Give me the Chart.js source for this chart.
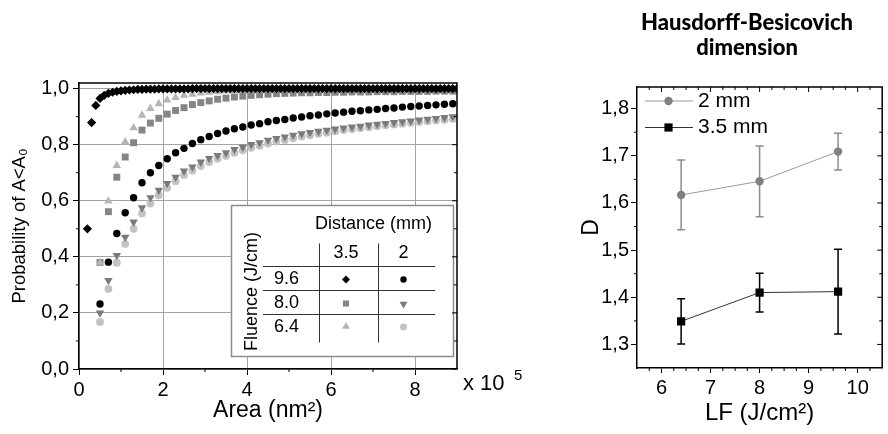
<!DOCTYPE html>
<html><head><meta charset="utf-8">
<script src="https://cdn.jsdelivr.net/npm/chart.js@4.4.0/dist/chart.umd.min.js"></script>
<style>
html,body{margin:0;padding:0;background:#fff;width:888px;height:434px;overflow:hidden;}
#left{position:absolute;left:0;top:0;}
#right{position:absolute;left:560px;top:0;}
.ttl{position:absolute;left:627px;width:240px;text-align:center;font-family:Lato,'Open Sans',sans-serif;font-weight:900;font-size:22px;line-height:25px;color:#000;white-space:nowrap;}
</style></head>
<body>
<canvas id="left" width="540" height="434"></canvas>
<canvas id="right" width="328" height="434"></canvas>
<div class="ttl" style="top:9px">Hausdorff-Besicovich</div>
<div class="ttl" style="top:34px">dimension</div>
<script>
// ---------------- LEFT CHART DATA ----------------
const areaX1 = [0.2,0.3,0.4,0.5,0.6,0.7,0.8,0.9,1.0,
 1.1,1.2,1.3,1.4,1.5,1.6,1.7,1.8,1.9,2.0,
 2.1,2.2,2.3,2.4,2.5,2.6,2.7,2.8,2.9,3.0,
 3.1,3.2,3.3,3.4,3.5,3.6,3.7,3.8,3.9,4.0,
 4.1,4.2,4.3,4.4,4.5,4.6,4.7,4.8,4.9,5.0,
 5.1,5.2,5.3,5.4,5.5,5.6,5.7,5.8,5.9,6.0,
 6.1,6.2,6.3,6.4,6.5,6.6,6.7,6.8,6.9,7.0,
 7.1,7.2,7.3,7.4,7.5,7.6,7.7,7.8,7.9,8.0,
 8.1,8.2,8.3,8.4,8.5,8.6,8.7,8.8,8.9,9.0];
const prob96_35 = [0.500,0.879,0.940,0.965,0.976,0.983,0.987,0.990,0.992,
 0.994,0.995,0.996,0.997,0.997,0.998,0.998,0.998,0.999,0.999,
 0.999,0.999,0.999,0.999,0.999,0.999,1.000,1.000,1.000,1.000,
 1.000,1.000,1.000,1.000,1.000,1.000,1.000,1.000,1.000,1.000,
 1.000,1.000,1.000,1.000,1.000,1.000,1.000,1.000,1.000,1.000,
 1.000,1.000,1.000,1.000,1.000,1.000,1.000,1.000,1.000,1.000,
 1.000,1.000,1.000,1.000,1.000,1.000,1.000,1.000,1.000,1.000,
 1.000,1.000,1.000,1.000,1.000,1.000,1.000,1.000,1.000,1.000,
 1.000,1.000,1.000,1.000,1.000,1.000,1.000,1.000,1.000,1.000];
const areaX2 = [0.5,0.7,0.9,1.1,1.3,1.5,1.7,1.9,2.1,2.3,2.5,2.7,2.9,3.1,3.3,3.5,3.7,3.9,4.1,4.3,4.5,
 4.7,4.9,5.1,5.3,5.5,5.7,5.9,6.1,6.3,6.5,6.7,6.9,7.1,7.3,7.5,7.7,7.9,8.1,8.3,8.5,8.7,8.9];
const prob96_2 = [0.232,0.381,0.483,0.557,0.611,0.664,0.700,0.726,0.750,0.771,0.787,0.804,0.818,0.829,0.840,0.849,0.857,0.863,0.870,0.875,0.882,
 0.886,0.890,0.895,0.899,0.903,0.906,0.910,0.913,0.916,0.919,0.921,0.924,0.926,0.929,0.931,0.934,0.936,0.938,0.940,0.942,0.944,0.946];
const prob80_35 = [0.380,0.561,0.684,0.756,0.807,0.852,0.877,0.894,0.909,0.922,0.932,0.943,0.950,0.956,0.962,0.966,0.970,0.973,0.976,0.978,0.980,
 0.982,0.983,0.984,0.985,0.985,0.986,0.986,0.987,0.987,0.988,0.988,0.988,0.989,0.989,0.989,0.990,0.990,0.990,0.990,0.991,0.991,0.991];
const prob80_2 = [0.200,0.316,0.405,0.470,0.524,0.575,0.611,0.638,0.662,0.684,0.706,0.721,0.738,0.751,0.762,0.771,0.783,0.791,0.801,0.807,0.816,
 0.822,0.828,0.834,0.839,0.844,0.848,0.852,0.856,0.860,0.863,0.866,0.870,0.873,0.876,0.879,0.882,0.885,0.888,0.891,0.894,0.897,0.900];
const prob64_35 = [0.379,0.599,0.726,0.810,0.860,0.905,0.929,0.946,0.959,0.968,0.976,0.980,0.984,0.987,0.989,0.991,0.992,0.993,0.994,0.995,0.995,
 0.996,0.996,0.996,0.997,0.997,0.997,0.997,0.998,0.998,0.998,0.998,0.998,0.998,0.999,0.999,0.999,0.999,0.999,0.999,0.999,0.999,0.999];
const prob64_2 = [0.168,0.286,0.379,0.446,0.500,0.555,0.590,0.620,0.646,0.670,0.692,0.708,0.724,0.738,0.750,0.760,0.771,0.780,0.789,0.796,0.804,
 0.811,0.817,0.823,0.829,0.834,0.839,0.843,0.848,0.852,0.856,0.859,0.862,0.866,0.869,0.872,0.875,0.878,0.881,0.884,0.887,0.889,0.892];
const xTicksLeft = [0,2,4,6,8];
const xMinorLeft = [1,3,5,7];
const yTicksLeft = [0,0.2,0.4,0.6,0.8,1.0];
const yLabelsLeft = ['0,0','0,2','0,4','0,6','0,8','1,0'];
const yMinorLeft = [0.1,0.3,0.5,0.7,0.9];
const distances = ['3.5','2'];
const fluences = ['9.6','8.0','6.4'];

// ---------------- RIGHT CHART DATA ----------------
const lf = [6.4, 8.0, 9.6];
const d2mm = [1.617, 1.646, 1.709];
const err2mm = [0.074, 0.075, 0.039];
const d35mm = [1.349, 1.410, 1.412];
const err35mm = [0.048, 0.041, 0.090];
const xTicksRight = [6,7,8,9,10];
const xMinorRight = [5.75,6.25,6.5,6.75,7.25,7.5,7.75,8.25,8.5,8.75,9.25,9.5,9.75,10.25];
const yTicksRight = [1.3,1.4,1.5,1.6,1.7,1.8];
const yLabelsRight = ['1,3','1,4','1,5','1,6','1,7','1,8'];
const yMinorRight = [1.35,1.45,1.55,1.65,1.75];

const FONT = "'Liberation Sans', Arial, sans-serif";
Chart.defaults.font.family = FONT;
Chart.defaults.color = '#000';

const C_SQ = '#858585', C_TD = '#7a7a7a', C_TU = '#b5b5b5', C_LC = '#c2c2c2';

function pts(xs, ys){ return xs.map((x,i)=>({x:x, y:ys[i]})); }

function mark(ctx, style, x, y, r, color, rot){
  ctx.save(); ctx.fillStyle = color; ctx.translate(x,y);
  if(rot) ctx.rotate(rot*Math.PI/180);
  ctx.beginPath();
  if(style==='circle') ctx.arc(0,0,r,0,2*Math.PI);
  else if(style==='rect'){ const s=r*Math.SQRT1_2; ctx.rect(-s,-s,2*s,2*s); }
  else if(style==='rectRot'){ ctx.moveTo(-r,0); ctx.lineTo(0,-r); ctx.lineTo(r,0); ctx.lineTo(0,r); ctx.closePath(); }
  else if(style==='triangle'){ ctx.moveTo(0,-r); ctx.lineTo(r*0.866,r*0.5); ctx.lineTo(-r*0.866,r*0.5); ctx.closePath(); }
  ctx.fill(); ctx.restore();
}

function frameTicks(cfg){
  return { id:'frameTicks', afterDraw(chart){
    const {ctx, chartArea:a, scales:{x,y}} = chart;
    ctx.save();
    ctx.strokeStyle = '#000'; ctx.lineWidth = 1.5;
    ctx.beginPath(); ctx.moveTo(a.left,a.top); ctx.lineTo(a.right,a.top); ctx.lineTo(a.right,a.bottom); ctx.stroke();
    ctx.lineWidth = 1;
    ctx.beginPath();
    cfg.yMinor.forEach(v=>{ const p=y.getPixelForValue(v); ctx.moveTo(a.left,p); ctx.lineTo(a.left-3,p); });
    cfg.xMinor.forEach(v=>{ const p=x.getPixelForValue(v); ctx.moveTo(p,a.bottom); ctx.lineTo(p,a.bottom+3); });
    cfg.yMajor.forEach(v=>{ const p=y.getPixelForValue(v); ctx.moveTo(a.right,p); ctx.lineTo(a.right-5,p); });
    cfg.yMinor.forEach(v=>{ const p=y.getPixelForValue(v); ctx.moveTo(a.right,p); ctx.lineTo(a.right-3,p); });
    if(cfg.top){
      cfg.xMajor.forEach(v=>{ const p=x.getPixelForValue(v); ctx.moveTo(p,a.top); ctx.lineTo(p,a.top+5); });
      cfg.xMinor.forEach(v=>{ const p=x.getPixelForValue(v); ctx.moveTo(p,a.top); ctx.lineTo(p,a.top+3); });
    }
    ctx.stroke();
    ctx.restore();
  }};
}

const leftExtras = { id:'leftExtras', afterDatasetsDraw(chart){
  const ctx = chart.ctx; const a = chart.chartArea;
  ctx.save();
  // legend table box
  const bx = 231.5, by = 205.5, bw = 222, bh = 151;
  ctx.fillStyle = '#fff'; ctx.fillRect(bx,by,bw,bh);
  ctx.strokeStyle = '#8c8c8c'; ctx.lineWidth = 1.5; ctx.strokeRect(bx,by,bw,bh);
  ctx.fillStyle = '#000'; ctx.textBaseline = 'middle';
  ctx.font = "18px " + FONT; ctx.textAlign = 'left';
  ctx.fillText('Distance (mm)', 315, 224);
  ctx.textAlign = 'center';
  const colX = [346, 403.5];
  const rowY = [279.5, 303.5, 327];
  distances.forEach((d,i)=>ctx.fillText(d, colX[i], 253.5));
  fluences.forEach((f,i)=>ctx.fillText(f, 286.5, rowY[i]));
  ctx.save(); ctx.translate(252, 291.5); ctx.rotate(-Math.PI/2); ctx.fillText('Fluence (J/cm)', 0, 0); ctx.restore();
  ctx.strokeStyle = '#333'; ctx.lineWidth = 1;
  ctx.beginPath();
  [319.5, 378.5].forEach(xv=>{ ctx.moveTo(xv,243.5); ctx.lineTo(xv,342.5); });
  [266.5, 290.5, 314.5].forEach(yv=>{ ctx.moveTo(263,yv); ctx.lineTo(435,yv); });
  ctx.stroke();
  mark(ctx,'rectRot',colX[0],rowY[0],4,'#000');
  mark(ctx,'circle',colX[1],rowY[0],3.2,'#000');
  mark(ctx,'rect',colX[0],rowY[1],4.3,C_SQ);
  mark(ctx,'triangle',colX[1],rowY[1]+0.5,4.6,C_TD,180);
  mark(ctx,'triangle',colX[0],rowY[2]-0.5,4.6,C_TU);
  mark(ctx,'circle',colX[1],rowY[2],3.5,C_LC);
  // x 10^5
  ctx.textAlign = 'left';
  ctx.font = "22px " + FONT; ctx.fillText('x 10', a.right + 6, 384);
  ctx.font = "15px " + FONT; ctx.fillText('5', a.right + 57, 376);
  ctx.restore();
}};

new Chart(document.getElementById('left'), {
  type: 'scatter',
  data: { datasets: [
    {label:'9.6 J/cm, 3.5 mm', data:pts(areaX1,prob96_35), pointStyle:'rectRot', pointRadius:4.6, backgroundColor:'#000', borderColor:'#000', pointBorderWidth:0},
    {label:'9.6 J/cm, 2 mm', data:pts(areaX2,prob96_2), pointStyle:'circle', pointRadius:3.7, backgroundColor:'#000', borderColor:'#000', pointBorderWidth:0},
    {label:'6.4 J/cm, 3.5 mm', data:pts(areaX2,prob64_35), pointStyle:'triangle', pointRadius:4.9, backgroundColor:C_TU, borderColor:C_TU, pointBorderWidth:0},
    {label:'8.0 J/cm, 3.5 mm', data:pts(areaX2,prob80_35), pointStyle:'rect', pointRadius:4.9, backgroundColor:C_SQ, borderColor:C_SQ, pointBorderWidth:0},
    {label:'8.0 J/cm, 2 mm', data:pts(areaX2,prob80_2), pointStyle:'triangle', pointRotation:180, pointRadius:4.9, backgroundColor:C_TD, borderColor:C_TD, pointBorderWidth:0},
    {label:'6.4 J/cm, 2 mm', data:pts(areaX2,prob64_2), pointStyle:'circle', pointRadius:3.9, backgroundColor:C_LC, borderColor:C_LC, pointBorderWidth:0}
  ]},
  options: {
    responsive:false, animation:false, devicePixelRatio:1,
    layout:{padding:{top:83,right:83,left:0,bottom:0}},
    plugins:{legend:{display:false}, tooltip:{enabled:false}},
    scales:{
      x:{type:'linear', min:0, max:9,
         afterBuildTicks:s=>{ s.ticks = xTicksLeft.map(v=>({value:v})); },
         afterFit:s=>{ s.height = 65; },
         ticks:{callback:(v)=>String(v), font:{size:20}, color:'#000', padding:3, maxRotation:0, autoSkip:false},
         grid:{color:'#a4a4a4', tickColor:'#000', tickLength:6, lineWidth:1},
         border:{color:'#000', width:1.5},
         title:{display:true, text:'Area (nm²)', font:{size:23}, color:'#000', padding:{top:0,bottom:10}}},
      y:{type:'linear', min:0, max:1.02,
         afterBuildTicks:s=>{ s.ticks = yTicksLeft.map(v=>({value:v})); },
         afterFit:s=>{ s.width = 79; },
         ticks:{callback:(v,i)=>yLabelsLeft[i], font:{size:20}, color:'#000', padding:4, autoSkip:false},
         grid:{color:'#a4a4a4', tickColor:'#000', tickLength:6, lineWidth:1},
         border:{color:'#000', width:1.5},
         title:{display:true, text:'Probability of A<A₀', font:{size:18.5}, color:'#000', padding:{top:9,bottom:0}}}
    }
  },
  plugins:[frameTicks({xMajor:xTicksLeft, xMinor:xMinorLeft, yMajor:yTicksLeft, yMinor:yMinorLeft, top:false}), leftExtras]
});

// ---------------- RIGHT CHART ----------------
const errPlugin = { id:'errBars', beforeDatasetsDraw(chart){
  const {ctx, scales:{x,y}} = chart;
  const sets = [{v:d2mm, e:err2mm, c:'#8c8c8c'}, {v:d35mm, e:err35mm, c:'#000'}];
  ctx.save(); ctx.lineWidth = 1.5;
  sets.forEach(s=>{
    ctx.strokeStyle = s.c; ctx.beginPath();
    lf.forEach((xv,i)=>{
      const px = x.getPixelForValue(xv), y1 = y.getPixelForValue(s.v[i]+s.e[i]), y2 = y.getPixelForValue(s.v[i]-s.e[i]);
      ctx.moveTo(px,y1); ctx.lineTo(px,y2);
      ctx.moveTo(px-4,y1); ctx.lineTo(px+4,y1);
      ctx.moveTo(px-4,y2); ctx.lineTo(px+4,y2);
    });
    ctx.stroke();
  });
  ctx.restore();
}};
const rightLegend = { id:'rightLegend', afterDatasetsDraw(chart){
  const ctx = chart.ctx;
  ctx.save();
  ctx.lineWidth = 1;
  ctx.strokeStyle = '#9a9a9a'; ctx.beginPath(); ctx.moveTo(85,101); ctx.lineTo(133,101); ctx.stroke();
  mark(ctx,'circle',108.5,101,4.2,'#808080');
  ctx.strokeStyle = '#333'; ctx.beginPath(); ctx.moveTo(85,127.5); ctx.lineTo(133,127.5); ctx.stroke();
  mark(ctx,'rect',108.5,127.5,5.8,'#000');
  ctx.fillStyle = '#000'; ctx.font = "21px " + FONT; ctx.textBaseline = 'middle'; ctx.textAlign = 'left';
  ctx.fillText('2 mm', 138, 101);
  ctx.fillText('3.5 mm', 138, 127.5);
  ctx.restore();
}};

new Chart(document.getElementById('right'), {
  type: 'scatter',
  data: { datasets: [
    {label:'2 mm', data:pts(lf,d2mm), showLine:true, borderColor:'#9a9a9a', borderWidth:1, pointStyle:'circle', pointRadius:4.2, pointBackgroundColor:'#808080', pointBorderColor:'#808080', pointBorderWidth:0},
    {label:'3.5 mm', data:pts(lf,d35mm), showLine:true, borderColor:'#333', borderWidth:1, pointStyle:'rect', pointRadius:5.8, pointBackgroundColor:'#000', pointBorderColor:'#000', pointBorderWidth:0}
  ]},
  options: {
    responsive:false, animation:false, devicePixelRatio:1,
    layout:{padding:{top:87,right:2,left:0,bottom:0}},
    plugins:{legend:{display:false}, tooltip:{enabled:false}},
    scales:{
      x:{type:'linear', min:5.5, max:10.5,
         afterBuildTicks:s=>{ s.ticks = xTicksRight.map(v=>({value:v})); },
         afterFit:s=>{ s.height = 66; },
         ticks:{callback:(v)=>String(v), font:{size:20}, color:'#000', padding:3, maxRotation:0, autoSkip:false},
         grid:{drawOnChartArea:false, tickColor:'#000', tickLength:5},
         border:{color:'#000', width:1.5},
         title:{display:true, text:'LF (J/cm²)', font:{size:24}, color:'#000', padding:{top:0,bottom:6}}},
      y:{type:'linear', min:1.25, max:1.846,
         afterBuildTicks:s=>{ s.ticks = yTicksRight.map(v=>({value:v})); },
         afterFit:s=>{ s.width = 77; },
         ticks:{callback:(v,i)=>yLabelsRight[i], font:{size:20}, color:'#000', padding:2, autoSkip:false},
         grid:{drawOnChartArea:false, tickColor:'#000', tickLength:6},
         border:{color:'#000', width:1.5},
         title:{display:true, text:'D', font:{size:23}, color:'#000', padding:{top:18,bottom:0}}}
    }
  },
  plugins:[errPlugin, frameTicks({xMajor:xTicksRight, xMinor:xMinorRight, yMajor:yTicksRight, yMinor:yMinorRight, top:true}), rightLegend]
});
</script>
</body></html>
